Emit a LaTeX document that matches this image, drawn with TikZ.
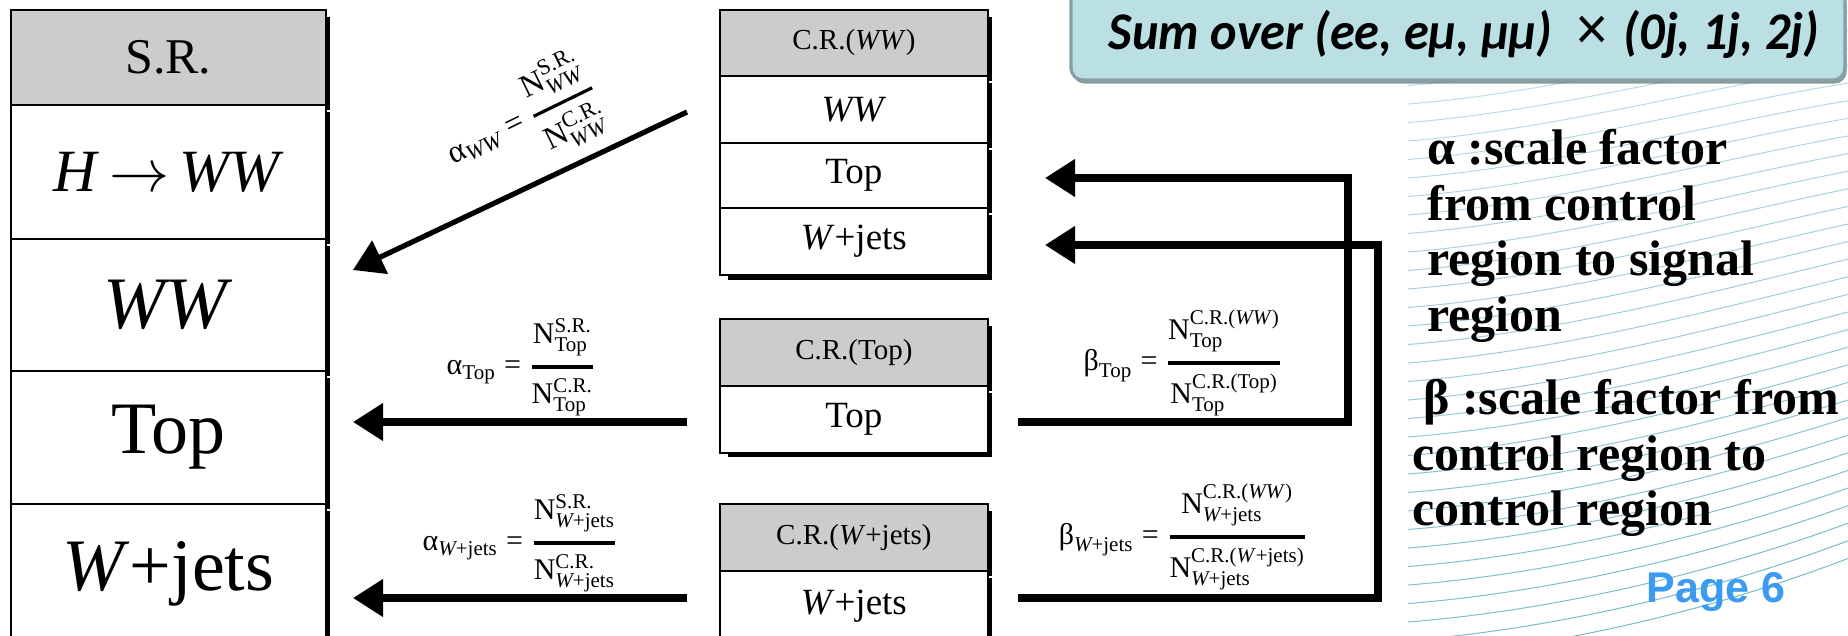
\RequirePackage{fix-cm}
\documentclass[tikz,border=0pt]{standalone}
\usepackage{fontspec}
\usepackage{amsmath}
\usepackage{graphicx}
\setmainfont{Liberation Serif}
\newfontfamily\carl{Carlito}
\newfontfamily\arialf{Liberation Sans}
\usetikzlibrary{arrows.meta,shadows}
\definecolor{hdrgray}{RGB}{204,204,204}
\definecolor{boxfill}{RGB}{186,224,228}
\definecolor{boxedge}{RGB}{135,160,165}
\definecolor{pageblue}{RGB}{60,155,240}
\definecolor{lineA}{RGB}{196,224,238}
\definecolor{lineB}{RGB}{120,186,200}
\newcommand{\tr}[1]{\textrm{#1}}
\newcommand{\ti}[1]{\textit{#1}}
\newcommand{\wj}{\ti{W}\tr{+jets}}
\begin{document}
\begin{tikzpicture}[x=0.5pt,y=-0.5pt,
  cell/.style={draw=black, line width=0.9pt, fill=white, anchor=north west, inner sep=0pt},
  hdr/.style={cell, fill=hdrgray},
  srw/.style={minimum width=157.5pt},
  crw/.style={minimum width=134pt},
  big/.style={font=\fontsize{37}{40}\selectfont},
  mid/.style={font=\fontsize{18.5}{20}\selectfont},
  crh/.style={font=\fontsize{14.5}{17}\selectfont},
  arr/.style={line width=3.6pt, -{Triangle[length=15pt,width=18pt]}},
  elbow/.style={arr, line join=miter},
  eq/.style={inner sep=0pt, font=\fontsize{15}{18}\selectfont},
  sumbox/.style={draw=boxedge, line width=1.6pt, fill=boxfill, rounded corners=6pt,
    minimum width=387pt, minimum height=46pt, inner sep=0pt,
    drop shadow={shadow xshift=0.8pt, shadow yshift=-1.8pt, fill=boxedge!70!black, opacity=0.7}},
  rtext/.style={anchor=north west, align=left, inner sep=0pt, font=\fontsize{25}{27.8}\selectfont\bfseries},
  pagelbl/.style={anchor=base, inner sep=0pt, text=pageblue, font=\arialf\bfseries\fontsize{21.5}{24}\selectfont}
]
\useasboundingbox (0,0) rectangle (1848,636);
\fill[white] (0,0) rectangle (1848,636);

% slide background curves
\begin{scope}
\clip (1408,0) rectangle (1848,636);
\foreach \i in {0,...,34} {
  \pgfmathsetmacro{\ys}{30+\i*18.5}
  \pgfmathsetmacro{\ye}{\ys-70-\i*0.9}
  \pgfmathsetmacro{\cb}{\ye+12+\i*1.1}
  \pgfmathtruncatemacro{\m}{100*\i/34}
  \draw[color=lineB!\m!lineA, line width=0.5pt] (1408,\ys) .. controls (1560,{\ys-12}) and (1720,\cb) .. (1848,\ye);
}
\end{scope}

% cell shadows
\fill (325,17) rectangle (330,110);
\fill (325,112) rectangle (330,244);
\fill (325,246) rectangle (330,376);
\fill (325,378) rectangle (330,509);
\fill (325,511) rectangle (330,640);
\fill (987,17) rectangle (992,81);
\fill (987,83) rectangle (992,148);
\fill (987,150) rectangle (992,213);
\fill (987,215) rectangle (992,280);
\fill (728,274) rectangle (992,280);
\fill (987,326) rectangle (992,391);
\fill (987,393) rectangle (992,457);
\fill (728,452) rectangle (992,457);
\fill (987,511) rectangle (992,576);
\fill (987,578) rectangle (992,640);

% signal region table
\node[hdr, srw, minimum height=47.5pt, font=\fontsize{25}{30}\selectfont] (sr) at (10,9) {S.R.};
\node[cell, srw, minimum height=67pt, font=\fontsize{30}{36}\selectfont] (srh) at (10,104) {\ti{H}\,$\rightarrow$\,\ti{WW}};
\node[cell, srw, minimum height=66pt, big] (srww) at (10,238) {\ti{WW}};
\node[cell, srw, minimum height=66.5pt, big] (srtop) at (10,370) {Top};
\node[cell, srw, minimum height=70pt, big] (srwj) at (10,503) {\ti{W}+jets};

% control region WW
\node[hdr, crw, minimum height=33pt, crh] (cw) at (719,9) {C.R.(\ti{WW})};
\node[cell, crw, minimum height=33.5pt, mid] (cwww) at (719,75) {\ti{WW}};
\node[cell, crw, minimum height=32.5pt, mid] (cwtop) at (719,142) {Top};
\node[cell, crw, minimum height=33.5pt, mid] (cwwj) at (719,207) {\ti{W}+jets};
% control region Top
\node[hdr, crw, minimum height=33.5pt, crh] (ct) at (719,318) {C.R.(Top)};
\node[cell, crw, minimum height=33.5pt, mid] (cttop) at (719,385) {Top};
% control region W+jets
\node[hdr, crw, minimum height=33.5pt, crh] (cj) at (719,503) {C.R.(\ti{W}+jets)};
\node[cell, crw, minimum height=35pt, mid] (cjwj) at (719,570) {\ti{W}+jets};

% connector end points
\coordinate (aWWs) at (687,112);
\coordinate (aWWe) at (353,270);
\coordinate (aTs) at (687,422);
\coordinate (aTe) at (353,422);
\coordinate (aJs) at (687,598);
\coordinate (aJe) at (353,598);
\coordinate (bTs) at (1018,422);
\coordinate (bTa) at (1348,422);
\coordinate (bTb) at (1348,178);
\coordinate (bTe) at (1045,178);
\coordinate (bJs) at (1018,598);
\coordinate (bJa) at (1378,598);
\coordinate (bJb) at (1378,245);
\coordinate (bJe) at (1045,245);

\draw[arr, line width=2.6pt] (aWWs) -- (aWWe);
\draw[arr] (aTs) -- (aTe);
\draw[arr] (aJs) -- (aJe);
\draw[elbow] (bTs) -- (bTa) -- (bTb) -- (bTe);
\draw[elbow] (bJs) -- (bJa) -- (bJb) -- (bJe);

% formulas
\node[eq, rotate=26, font=\fontsize{16}{19}\selectfont] (eqWW) at (522,122) {$\tr{α}_{\ti{WW}}\mathrel{\tr{=}}\genfrac{}{}{1.6pt}{0}{\tr{N}^{\tr{S.R.}}_{\ti{WW}}}{\tr{N}^{\tr{C.R.}}_{\ti{WW}}}$};
\node[eq] (eqT) at (521,367) {$\tr{α}_{\tr{Top}}\mathrel{\tr{=}}\genfrac{}{}{1.6pt}{0}{\tr{N}^{\tr{S.R.}}_{\tr{Top}}}{\tr{N}^{\tr{C.R.}}_{\tr{Top}}}$};
\node[eq] (eqJ) at (520,543) {$\tr{α}_{\wj}\mathrel{\tr{=}}\genfrac{}{}{1.6pt}{0}{\tr{N}^{\tr{S.R.}}_{\wj}}{\tr{N}^{\tr{C.R.}}_{\wj}}$};
\node[eq] (eqbT) at (1183,363) {$\tr{β}_{\tr{Top}}\mathrel{\tr{=}}\genfrac{}{}{1.6pt}{0}{\tr{N}^{\tr{C.R.(\ti{WW})}}_{\tr{Top}}}{\tr{N}^{\tr{C.R.(Top)}}_{\tr{Top}}}$};
\node[eq] (eqbJ) at (1183,537) {$\tr{β}_{\wj}\mathrel{\tr{=}}\genfrac{}{}{1.6pt}{0}{\tr{N}^{\tr{C.R.(\ti{WW})}}_{\wj}}{\tr{N}^{\tr{C.R.(\ti{W}+jets)}}_{\wj}}$};

% slide annotations
\node[sumbox] (sum) at (1458,34) {\hspace*{6pt}\scalebox{0.95}[1]{\carl\bfseries\itshape\fontsize{26.5}{30}\selectfont Sum over (ee, eμ, μμ)\hspace{12pt}{\arialf\mdseries\upshape\fontsize{30}{30}\selectfont ×}\hspace{8pt}(0j, 1j, 2j)}};
\node[rtext] (alpha) at (1427,129) {α :scale factor\\from control\\region to signal\\region};
\node[rtext] (beta) at (1412,379) {\hspace*{5.5pt}β :scale factor from\\control region to\\control region};
\node[pagelbl] (page) at (1716,602) {Page 6};
\end{tikzpicture}
\end{document}
